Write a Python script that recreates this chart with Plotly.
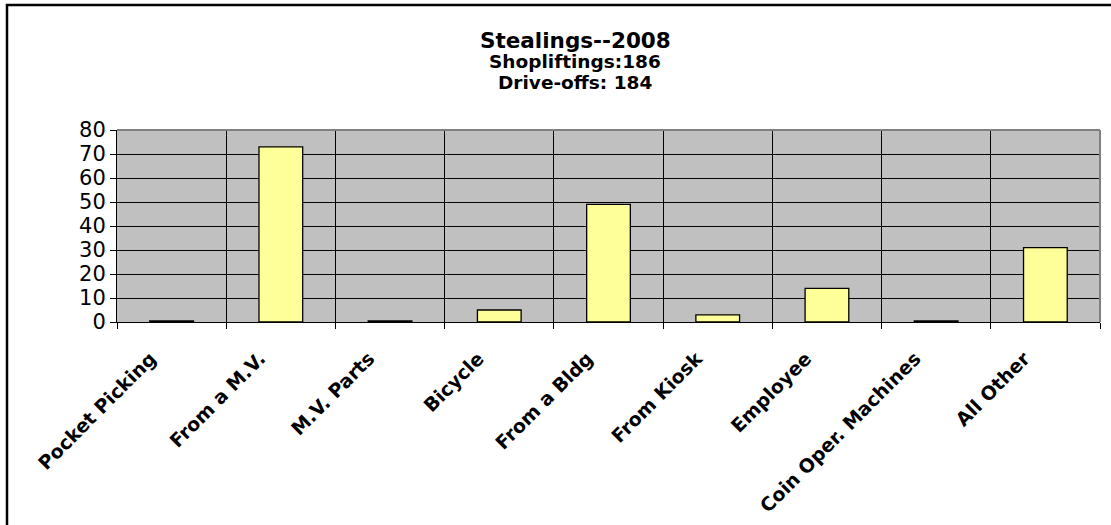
import plotly.graph_objects as go

categories = ["Pocket Picking", "From a M.V.", "M.V. Parts", "Bicycle", "From a Bldg",
              "From Kiosk", "Employee", "Coin Oper. Machines", "All Other"]
values = [0.5, 73, 0.5, 5, 49, 3, 14, 0.5, 31]
title_lines = ["Stealings--2008", "Shopliftings:186", "Drive-offs: 184"]
y_ticks = [0, 10, 20, 30, 40, 50, 60, 70, 80]

W, H = 1111, 525
L, R, T, B = 117, 11, 130, 203
pw, ph = W - L - R, H - T - B

def px2x(px):
    return (px - L) / pw

def py2y(py):
    return (H - B - py) / ph

FONT = "DejaVu Sans, sans-serif"

fig = go.Figure(go.Bar(
    x=categories, y=values, width=0.4,
    marker=dict(color="#FFFF99", line=dict(color="black", width=1.3)),
))

fig.update_layout(
    width=W, height=H,
    margin=dict(l=L, r=R, t=T, b=B),
    paper_bgcolor="white", plot_bgcolor="#C0C0C0",
    showlegend=False,
    font=dict(family=FONT, color="black"),
    xaxis=dict(
        type="category", tickson="boundaries", showgrid=True, gridcolor="black", gridwidth=1,
        ticks="outside", ticklen=6, tickcolor="black", tickwidth=1,
        showline=True, linecolor="black", linewidth=1, automargin=False,
        tickangle=-45, tickfont=dict(size=19, family=FONT, weight="bold"),
        ticklabelshift=-21, ticklabelstandoff=17,
        range=[-0.5, len(categories) - 0.5],
    ),
    yaxis=dict(
        range=[0, 80], tickvals=y_ticks, showgrid=True, gridcolor="black", gridwidth=1,
        ticks="outside", ticklen=6, tickcolor="black", tickwidth=1,
        showline=True, linecolor="black", linewidth=1, zeroline=False, automargin=False,
        tickfont=dict(size=21, family=FONT),
    ),
)

# plot area border (top/right gray)
fig.add_shape(type="line", xref="paper", yref="paper", x0=0, x1=1, y0=1, y1=1,
              line=dict(color="#808080", width=2))
fig.add_shape(type="line", xref="paper", yref="paper", x0=1, x1=1, y0=0, y1=1,
              line=dict(color="#808080", width=2))
# outer chart frame
fig.add_shape(type="rect", xref="paper", yref="paper",
              x0=px2x(7), x1=px2x(1150), y0=py2y(560), y1=py2y(5),
              line=dict(color="black", width=2.5))

cx = px2x(575)
sizes = [21.5, 18.5, 18.5]
centers = [40, 62, 83]
for txt, s, cy in zip(title_lines, sizes, centers):
    fig.add_annotation(text="<b>%s</b>" % txt, xref="paper", yref="paper",
                       x=cx, y=py2y(cy), showarrow=False, xanchor="center", yanchor="middle",
                       font=dict(size=s, family=FONT, color="black"))

fig.write_html("out.html", config={"displayModeBar": False},
               post_script="document.body.style.margin='0';")
